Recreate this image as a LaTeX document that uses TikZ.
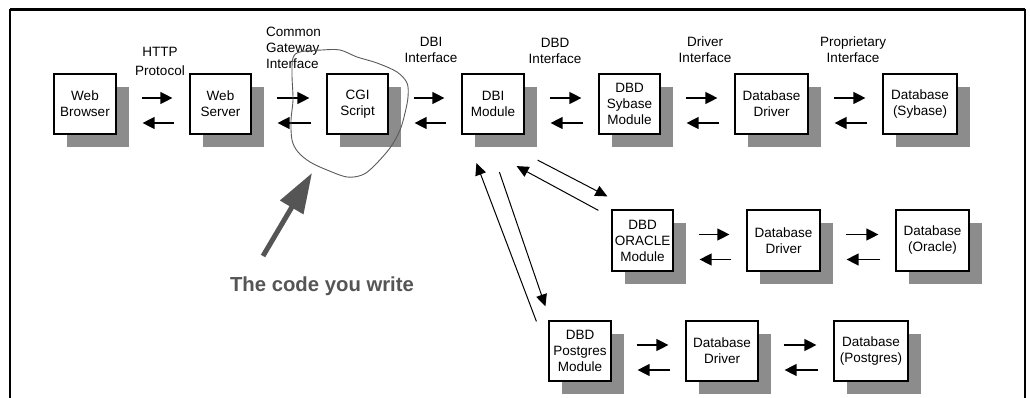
\documentclass[tikz,border=0pt]{standalone}
\usepackage{fontspec}
\setmainfont{Liberation Sans}
\usetikzlibrary{arrows.meta,calc,shadows}
\definecolor{shadowgray}{RGB}{140,140,140}
\definecolor{penc}{RGB}{85,85,85}
\definecolor{circc}{RGB}{90,90,90}
\begin{document}
\begin{tikzpicture}[x=1pt,y=-1pt,
  box/.style={draw=black, line width=1.2pt, fill=white, inner sep=0pt,
    minimum height=60pt, align=center,
    font=\fontsize{13.5}{16}\selectfont,
    drop shadow={shadow xshift=13pt, shadow yshift=-13pt, fill=shadowgray, opacity=1}},
  lbl/.style={inner sep=0pt, align=center, font=\fontsize{13.5}{16}\selectfont},
  fwd/.style={line width=1.3pt, -{Triangle[length=12pt,width=12pt]}},
  thin/.style={line width=1pt, -{Triangle[length=12pt,width=11pt]}},
  frame/.style={line width=2.5pt},
]
\useasboundingbox (0,0) rectangle (1030,398);
\fill[white] (0,0) rectangle (1030,398);

% frame
\draw[line width=3pt] (10,10) -- (1025,10);
\draw[frame] (10,9) -- (10,398);
\draw[frame] (1025,9) -- (1025,398);

% row 1
\node[box, minimum width=62pt] (wb)   at (85,104)    {Web\\Browser};
\node[box, minimum width=61pt] (ws)   at (220.5,104) {Web\\Server};
\node[box, minimum width=61pt] (cgi)  at (357.5,104) {CGI\\Script};
\node[box, minimum width=62pt] (dbi)  at (493,104)   {DBI\\Module};
\node[box, minimum width=61pt] (syb)  at (629.5,104) {DBD\\Sybase\\Module};
\node[box, minimum width=73pt] (drv1) at (771.5,104) {Database\\Driver};
\node[box, minimum width=74pt] (dbs)  at (920,104)   {Database\\(Sybase)};

% row 2
\node[box, minimum width=61pt, minimum height=61pt] (ora)  at (642.5,240.5) {DBD\\ORACLE\\Module};
\node[box, minimum width=73pt, minimum height=61pt] (drv2) at (783.5,240.5) {Database\\Driver};
\node[box, minimum width=73pt, minimum height=61pt] (dbo)  at (932.5,240.5) {Database\\(Oracle)};

% row 3
\node[box, minimum width=62pt] (pg)   at (580,351) {DBD\\Postgres\\Module};
\node[box, minimum width=72pt] (drv3) at (722,351) {Database\\Driver};
\node[box, minimum width=74pt] (dbp)  at (871,351) {Database\\(Postgres)};

% interface labels
\node[lbl, font=\fontsize{13.5}{19}\selectfont] (lhttp) at (160,61) {HTTP\\Protocol};
\node[lbl, align=left, anchor=west] (lcgi) at (266,48) {Common\\Gateway\\Interface};
\node[lbl] (ldbi)  at (431,50) {DBI\\Interface};
\node[lbl] (ldbd)  at (555,51) {DBD\\Interface};
\node[lbl] (ldrv)  at (705,50) {Driver\\Interface};
\node[lbl] (lprop) at (853,50) {Proprietary\\Interface};

% row arrows
\foreach \a/\b in {wb/ws, ws/cgi, cgi/dbi, dbi/syb, syb/drv1, drv1/dbs, ora/drv2, drv2/dbo, pg/drv3, drv3/dbp} {
  \draw[fwd] ($(\a.east)+(25,-6)$) -- ($(\b.west)+(-17,-6)$);
  \draw[fwd] ($(\b.west)+(-15,19)$) -- ($(\a.east)+(26,19)$);
}

% diagonal arrows
\draw[thin] ($(dbi.south east)+(13,25.5)$) -- ($(ora.north west)+(-4,-13)$);
\draw[thin] ($(ora.north west)+(-13,1)$) -- ($(dbi.south east)+(-8,31.5)$);
\draw[thin] ($(pg.north west)+(-12,1)$) -- ($(dbi.south west)+(15,28.5)$);
\draw[thin] ($(dbi.south west)+(38,37.5)$) -- ($(pg.north west)+(-3,-14)$);

% hand drawn circle around CGI script
\draw[circc, line width=0.9pt] plot[smooth cycle, tension=0.55] coordinates {
  (300,52) (322,50) (340,50) (357,57) (377,63) (397,72) (407,83) (408,97)
  (405,113) (400,130) (390,148) (373,167) (362,175) (347,177) (327,170)
  (310,162) (298,152) (292,140) (291,120) (293,100) (292,75) (293,58)};

% the code you write
\node[inner sep=0pt, text=penc, font=\fontsize{20.3}{24}\bfseries\selectfont] (code) at (322,286) {The code you write};
\coordinate (ptail) at (263,256);
\coordinate (ptip) at (312,173);
\draw[penc, line width=5pt, -{Triangle[length=40pt,width=26pt]}] (ptail) -- (ptip);
\end{tikzpicture}
\end{document}
